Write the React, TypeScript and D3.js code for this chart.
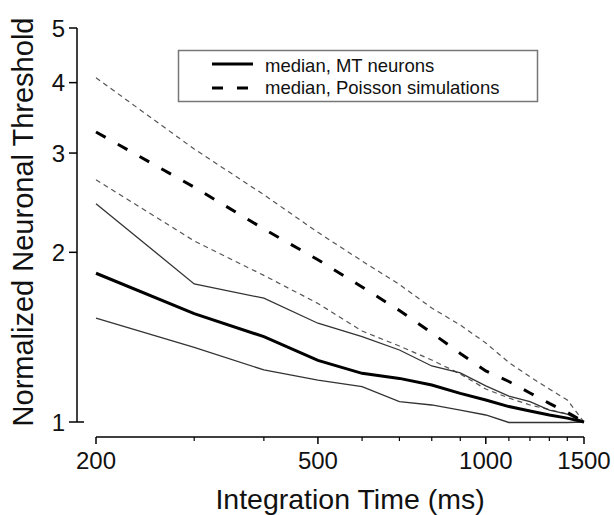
import React from "react";
import * as d3 from "d3";

// integration times (ms)
const times = [200, 300, 400, 500, 600, 700, 800, 900, 1000, 1100, 1200, 1300, 1400, 1500];

// MT neurons: median and the two thin bounds
const mtMedian = [1.836, 1.557, 1.417, 1.286, 1.22, 1.195, 1.163, 1.124, 1.094, 1.065, 1.046, 1.029, 1.016, 1.0];
const mtUpper = [2.44, 1.758, 1.658, 1.497, 1.417, 1.342, 1.257, 1.222, 1.159, 1.112, 1.087, 1.05, 1.033, 1.0];
const mtLower = [1.528, 1.356, 1.237, 1.187, 1.155, 1.087, 1.072, 1.05, 1.029, 0.998, 0.998, 0.998, 0.998, 1.0];

// Poisson simulations: median and bounds
const poissonMedian = [3.27, 2.61, 2.2, 1.94, 1.736, 1.577, 1.439, 1.323, 1.232, 1.18, 1.126, 1.079, 1.04, 1.0];
const poissonUpper = [4.08, 3.05, 2.53, 2.17, 1.93, 1.754, 1.593, 1.486, 1.381, 1.275, 1.203, 1.144, 1.094, 1.0];
const poissonLower = [2.69, 2.095, 1.82, 1.623, 1.45, 1.364, 1.288, 1.217, 1.144, 1.103, 1.072, 1.052, 1.033, 1.0];

const xMajor = [200, 500, 1000, 1500];
const xMinor = [300, 400, 600, 700, 800, 900, 1100, 1200, 1300, 1400];
const yTicks = [1, 2, 3, 4, 5];

const legendItems = ["median, MT neurons", "median, Poisson simulations"];

const font = "'Liberation Sans', Arial, Helvetica, sans-serif";

export default function App() {
   const width = 614;
   const height = 515;

   const x = d3.scaleLog().domain([200, 1500]).range([96, 584]);
   const y = d3.scaleLog().domain([1, 5]).range([422, 28]);

   const line = d3
      .line<number>()
      .x((_, i) => x(times[i]))
      .y((d) => y(d));

   const axisY = 437;
   const axisX = 77;

   return (
      <svg
         width={width}
         height={height}
         style={{ position: "absolute", left: 0, top: 0, background: "#fff" }}
         fontFamily={font}
      >
         {/* dotted bounds for the Poisson simulations */}
         <path d={line(poissonUpper) || ""} fill="none" stroke="#555" strokeWidth={1.2} strokeDasharray="5,4" />
         <path d={line(poissonLower) || ""} fill="none" stroke="#555" strokeWidth={1.2} strokeDasharray="5,4" />
         {/* thin bounds for MT neurons */}
         <path d={line(mtUpper) || ""} fill="none" stroke="#333" strokeWidth={1.3} />
         <path d={line(mtLower) || ""} fill="none" stroke="#333" strokeWidth={1.3} />
         {/* medians */}
         <path d={line(poissonMedian) || ""} fill="none" stroke="#000" strokeWidth={3} strokeDasharray="11,14" />
         <path d={line(mtMedian) || ""} fill="none" stroke="#000" strokeWidth={3} />

         {/* y axis */}
         <line x1={axisX} x2={axisX} y1={y(5)} y2={y(1)} stroke="#000" strokeWidth={1.5} />
         {yTicks.map((t) => (
            <g key={t}>
               <line x1={axisX - 8} x2={t === 1 ? axisX + 7 : axisX} y1={y(t)} y2={y(t)} stroke="#000" strokeWidth={1.5} />
               <text x={65} y={y(t)} textAnchor="end" dominantBaseline="central" fontSize={24} fill="#111">
                  {t}
               </text>
            </g>
         ))}

         {/* x axis */}
         <line x1={x(200)} x2={x(1500)} y1={axisY} y2={axisY} stroke="#000" strokeWidth={1.5} />
         {xMajor.map((t) => (
            <g key={t}>
               <line x1={x(t)} x2={x(t)} y1={axisY} y2={axisY + 7} stroke="#000" strokeWidth={1.5} />
               <text x={x(t)} y={469} textAnchor="middle" fontSize={24} fill="#111">
                  {t}
               </text>
            </g>
         ))}
         {xMinor.map((t) => (
            <line key={t} x1={x(t)} x2={x(t)} y1={axisY} y2={axisY + 4} stroke="#000" strokeWidth={1.2} />
         ))}

         {/* axis titles */}
         <text x={350} y={509} textAnchor="middle" fontSize={28.5} fill="#111">
            Integration Time (ms)
         </text>
         <text transform="translate(33,222) rotate(-90)" textAnchor="middle" fontSize={29} fill="#111">
            Normalized Neuronal Threshold
         </text>

         {/* legend */}
         <rect x={178.5} y={50.5} width={359} height={51} fill="#fff" stroke="#777" strokeWidth={1.5} />
         <line x1={212} x2={253} y1={64} y2={64} stroke="#000" strokeWidth={3} />
         <line x1={212} x2={248} y1={88} y2={88} stroke="#000" strokeWidth={3} strokeDasharray="11,14" />
         {legendItems.map((label, i) => (
            <text key={label} x={265} y={71.5 + i * 22.5} fontSize={18.5} fill="#111">
               {label}
            </text>
         ))}
      </svg>
   );
}
